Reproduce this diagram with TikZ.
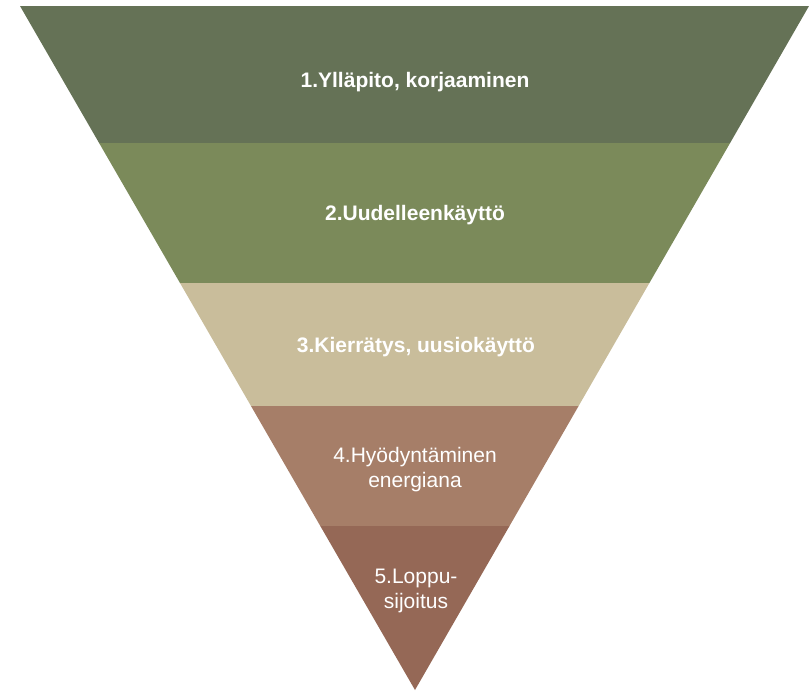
\documentclass[tikz,border=0pt]{standalone}
\usepackage{fontspec}
\setmainfont{Liberation Sans}
\definecolor{bandA}{HTML}{657256}
\definecolor{bandB}{HTML}{7B8A5A}
\definecolor{bandC}{HTML}{C9BD9B}
\definecolor{bandD}{HTML}{A67E68}
\definecolor{bandE}{HTML}{956856}
\begin{document}
\begin{tikzpicture}[x=1pt,y=-1pt,
  lbl/.style={text=white,font=\fontsize{21}{25}\selectfont,align=center,inner sep=0pt},
  blbl/.style={lbl,font=\fontsize{21}{25}\selectfont\bfseries}]
\useasboundingbox (0,0) rectangle (809,691);
\coordinate (L0) at (20,6);     \coordinate (R0) at (809,6);
\coordinate (L1) at (99.1,143); \coordinate (R1) at (730.1,143);
\coordinate (L2) at (180.0,283);\coordinate (R2) at (649.4,283);
\coordinate (L3) at (251.0,406);\coordinate (R3) at (578.6,406);
\coordinate (L4) at (320.3,526);\coordinate (R4) at (509.5,526);
\coordinate (A) at (415,690);
\fill[bandA] (L0) -- (R0) -- (R1) -- (L1) -- cycle;
\fill[bandB] (L1) -- (R1) -- (R2) -- (L2) -- cycle;
\fill[bandC] (L2) -- (R2) -- (R3) -- (L3) -- cycle;
\fill[bandD] (L3) -- (R3) -- (R4) -- (L4) -- cycle;
\fill[bandE] (L4) -- (R4) -- (A) -- cycle;
\node[blbl] (t1) at (415,82) {1.Ylläpito, korjaaminen};
\node[blbl] (t2) at (415,215) {2.Uudelleenkäyttö};
\node[blbl] (t3) at (416,347) {3.Kierrätys, uusiokäyttö};
\node[lbl] (t4) at (415,470) {4.Hyödyntäminen\\energiana};
\node[lbl] (t5) at (416,591) {5.Loppu-\\sijoitus};
\end{tikzpicture}
\end{document}
